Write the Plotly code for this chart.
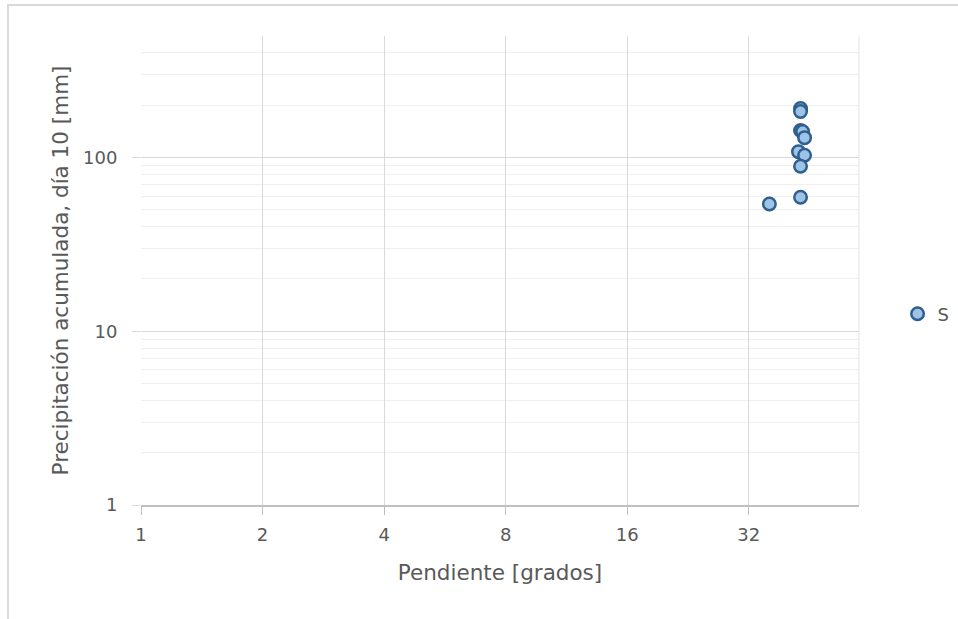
import plotly.graph_objects as go

# Slope (degrees) vs accumulated precipitation on day 10 (mm)
pendiente = [43, 43, 43, 43.5, 44, 42.5, 44, 43, 43, 36]
precipitacion = [191, 184, 143, 141, 130, 108, 103, 89, 59, 54]
serie = "S"

x_ticks = [1, 2, 4, 8, 16, 32]
y_ticks = [1, 10, 100]

FONT = "DejaVu Sans"
TXT = "#595959"

fig = go.Figure()
fig.add_trace(go.Scatter(
    x=pendiente, y=precipitacion, mode="markers", name=serie,
    marker=dict(size=12.5, color="#9DC3E6", line=dict(color="#2F5F8F", width=2.5)),
))

fig.update_layout(
    width=958, height=619,
    margin=dict(l=141, r=10, t=36, b=114, autoexpand=False),
    paper_bgcolor="white", plot_bgcolor="white",
    font=dict(family=FONT, color=TXT, size=18),
    showlegend=True,
    legend=dict(x=0.9375, y=0.407, xanchor="left", yanchor="middle",
                font=dict(size=18, color=TXT), itemwidth=30,
                bgcolor="rgba(0,0,0,0)"),
    xaxis=dict(
        type="log", range=[0, 1.7782], domain=[0, 0.8897],
        tickvals=x_ticks, ticktext=[str(v) for v in x_ticks],
        tickfont=dict(size=18),
        showgrid=True, gridcolor="#d9d9d9", gridwidth=1,
        showline=True, linecolor="#bfbfbf", linewidth=1.5,
        ticks="outside", ticklen=8, tickcolor="#bfbfbf",
        ticklabelstandoff=5,
        zeroline=False,
        title=dict(text="Pendiente [grados]", font=dict(size=21.5, color=TXT), standoff=21),
    ),
    yaxis=dict(
        type="log", range=[0, 2.69897],
        tickvals=y_ticks, ticktext=[str(v) for v in y_ticks],
        tickfont=dict(size=18),
        showgrid=True, gridcolor="#d9d9d9", gridwidth=1,
        showline=False,
        ticks="outside", ticklen=8, tickcolor="#d9d9d9",
        ticklabelstandoff=11,
        minor=dict(dtick="D1", showgrid=True, gridcolor="#efefef", gridwidth=1, ticks=""),
        zeroline=False,
        title=dict(text="Precipitación acumulada, día 10 [mm]", font=dict(size=21.5, color=TXT), standoff=8),
    ),
    shapes=[
        # right edge of plot area
        dict(type="line", xref="x domain", yref="y domain", x0=1, x1=1, y0=0, y1=1,
             line=dict(color="#e6e6e6", width=1)),
        # chart outer border
        dict(type="rect", xref="paper", yref="paper", x0=-0.1648, x1=2, y0=-2, y1=1.066,
             line=dict(color="#d9d9d9", width=2), layer="below"),
    ],
)

fig.write_html("out.html")
